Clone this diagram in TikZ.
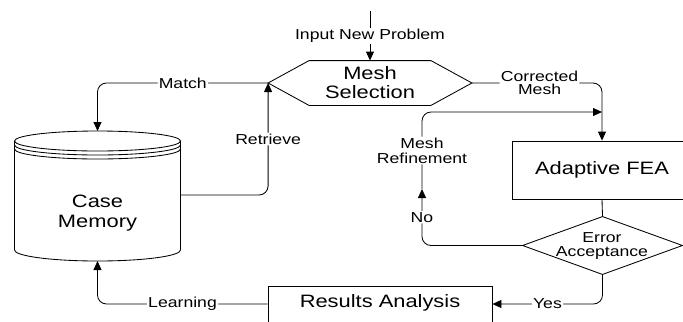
\documentclass[tikz,border=0pt]{standalone}
\usepackage{fontspec}
\setmainfont{Liberation Sans}
\usetikzlibrary{arrows.meta}
\begin{document}
\begin{tikzpicture}[x=1bp,y=-1bp,
  line width=0.85bp,
  shape box/.style={draw=none,rectangle,inner sep=0pt},
  big/.style={font=\fontsize{18}{20}\selectfont,align=center,xscale=1.22},
  lbl/.style={font=\fontsize{14.5}{15}\selectfont,align=center,xscale=1.22,
              fill=white,inner sep=1bp},
  arr/.style={-{Triangle[length=9bp,width=8bp]}},
  roundpath/.style={rounded corners=9bp}]
\clip (0,0) rectangle (683,321);

% Mesh selection hexagon
\node[shape box,minimum width=203bp,minimum height=44bp] (sel) at (370,83) {};
\draw (sel.west) -- ([xshift=41bp]sel.north west) -- ([xshift=-41bp]sel.north east)
  -- (sel.east) -- ([xshift=-41bp]sel.south east) -- ([xshift=41bp]sel.south west) -- cycle;
\node[big,font=\fontsize{18}{19}\selectfont] (seltxt) at (370,83) {Mesh\\Selection};

% Case memory cylinder
\node[shape box,minimum width=166bp,minimum height=131bp] (mem) at (97.5,196) {};
\coordinate (memtop) at (97.5,131);
\coordinate (membot) at (97.5,261);
\coordinate (memright) at (180.5,195);
\draw (97.5,141) ellipse [x radius=83, y radius=10];
\draw (14.5,145) arc[start angle=180, end angle=0, x radius=83, y radius=10];
\draw (14.5,149) arc[start angle=180, end angle=0, x radius=83, y radius=10];
\draw (14.5,141) -- (14.5,250) arc[start angle=180, end angle=0, x radius=83, y radius=11]
  -- (180.5,141);
\node[big] (memtxt) at (97.5,213) {Case\\Memory};

% Adaptive FEA box
\node[draw,rectangle,minimum width=180bp,minimum height=58bp] (fea) at (602,170) {};
\node[big] (featxt) at (602,170) {Adaptive FEA};

% Error acceptance decision
\node[shape box,minimum width=159bp,minimum height=57bp] (err) at (602.5,245.5) {};
\draw (err.north) -- (err.east) -- (err.south) -- (err.west) -- cycle;
\node[big,font=\fontsize{14.5}{14.5}\selectfont] (errtxt) at (602,246) {Error\\Acceptance};

% Results analysis box
\node[draw,rectangle,minimum width=224bp,minimum height=36bp] (res) at (380,304) {};
\node[big] (restxt) at (380,303) {Results Analysis};

% Helper points
\coordinate (in) at (370,11);
\coordinate (join) at (602,112);
\coordinate (refup) at (422,189);

% Connectors
\draw[arr] (in) -- (sel.north) node[lbl,midway] {Input New Problem};
\draw[arr,roundpath] (sel.west) -| (memtop) node[lbl,pos=0.25] {Match};
\draw[arr,roundpath] (memright) -| (sel.west) node[lbl,pos=0.75] {Retrieve};
\draw[arr,roundpath] (res.west) -| (membot) node[lbl,pos=0.25] {Learning};
\draw[arr,roundpath] (sel.east) -| (fea.north) node[lbl,pos=0.26,font=\fontsize{14.5}{13}\selectfont] {Corrected\\Mesh};
\draw (fea.south) -- (err.north);
\draw[arr,roundpath] (err.south) |- (res.east) node[lbl,pos=0.75] {Yes};
\draw[arr,roundpath] (err.west) -| (refup) node[lbl,pos=0.75] {No};
\draw[arr,roundpath] (refup) |- (join) node[lbl,pos=0.25,font=\fontsize{14.5}{15}\selectfont] {Mesh\\Refinement};
\end{tikzpicture}
\end{document}
